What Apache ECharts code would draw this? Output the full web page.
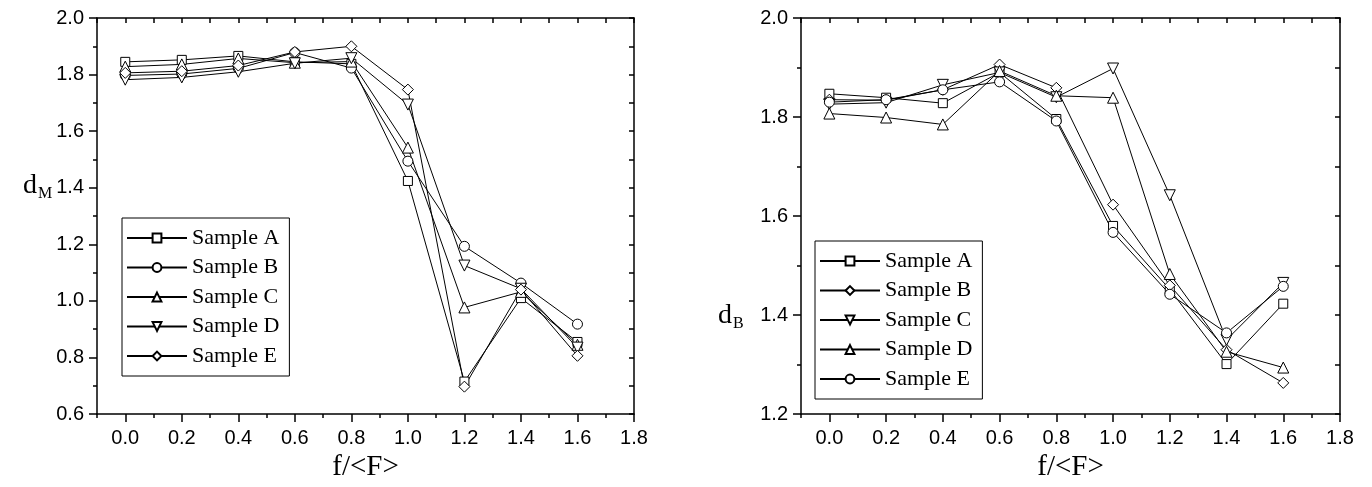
<!DOCTYPE html>
<html><head><meta charset="utf-8">
<script src="https://cdn.jsdelivr.net/npm/echarts@6/dist/echarts.min.js"></script>
<style>
html,body{margin:0;padding:0;background:#fff;}
#wrap{display:flex;width:1372px;height:487px;}
.c{width:686px;height:487px;}
</style>
</head><body>
<div id="wrap"><div id="left" class="c"></div><div id="right" class="c"></div></div>
<script>
// ---------- data ----------
const xValues = [0.0, 0.2, 0.4, 0.6, 0.8, 1.0, 1.2, 1.4, 1.6];
const xMajorTicks = [0.0, 0.2, 0.4, 0.6, 0.8, 1.0, 1.2, 1.4, 1.6, 1.8];
const xMinorTicks = [-0.1, 0.1, 0.3, 0.5, 0.7, 0.9, 1.1, 1.3, 1.5, 1.7];
const seriesNames = ['Sample A', 'Sample B', 'Sample C', 'Sample D', 'Sample E'];

// left panel: d_M
const leftA = [1.845, 1.852, 1.866, 1.845, 1.838, 1.424, 0.715, 1.010, 0.855];
const leftB = [1.797, 1.802, 1.822, 1.878, 1.823, 1.494, 1.193, 1.063, 0.918];
const leftC = [1.828, 1.836, 1.857, 1.842, 1.846, 1.542, 0.977, 1.032, 0.845];
const leftD = [1.782, 1.790, 1.810, 1.840, 1.858, 1.694, 1.125, 1.043, 0.835];
const leftE = [1.806, 1.812, 1.832, 1.880, 1.900, 1.747, 0.697, 1.040, 0.806];
const leftYTicks = [0.6, 0.8, 1.0, 1.2, 1.4, 1.6, 1.8, 2.0];

// right panel: d_B
const rightA = [1.847, 1.839, 1.828, 1.890, 1.796, 1.580, 1.452, 1.301, 1.423];
const rightB = [1.835, 1.834, 1.855, 1.906, 1.859, 1.623, 1.460, 1.330, 1.263];
const rightC = [1.826, 1.829, 1.865, 1.890, 1.840, 1.898, 1.642, 1.350, 1.465];
const rightD = [1.807, 1.799, 1.785, 1.893, 1.843, 1.839, 1.483, 1.326, 1.294];
const rightE = [1.830, 1.835, 1.855, 1.871, 1.792, 1.567, 1.442, 1.364, 1.458];
const rightYTicks = [1.2, 1.4, 1.6, 1.8, 2.0];

// ---------- styling ----------
const SQ = {symbol: 'rect', size: 9, rotate: 0};
const CI = {symbol: 'circle', size: 10, rotate: 0};
const TU = {symbol: 'triangle', size: 11, rotate: 0};
const TD = {symbol: 'triangle', size: 11, rotate: 180};
const DI = {symbol: 'diamond', size: 11, rotate: 0};

const SANS = 'Liberation Sans';
const SERIF = 'Liberation Serif';
const AX = {color: '#000', width: 1.5};

function makeOption(cfg) {
  const series = seriesNames.map((n, i) => ({
    name: n, type: 'line', xAxisIndex: 0, yAxisIndex: 0,
    data: xValues.map((x, j) => [x, cfg.values[i][j]]),
    symbol: cfg.symbols[i].symbol,
    symbolRotate: cfg.symbols[i].rotate,
    symbolSize: cfg.symbols[i].size,
    showAllSymbol: true,
    lineStyle: {color: '#000', width: 1},
    itemStyle: {color: '#fff', borderColor: '#000', borderWidth: 1},
    emphasis: {disabled: true},
    z: 3
  }));
  const ymin = cfg.yTicks[0], ymax = cfg.yTicks[cfg.yTicks.length - 1];
  return {
    animation: false,
    backgroundColor: '#fff',
    grid: {left: cfg.gridLeft, right: cfg.gridRight, top: 18, bottom: 71, containLabel: false},
    legend: {
      orient: 'vertical', left: cfg.legendLeft, top: cfg.legendTop,
      data: seriesNames,
      itemWidth: 60, itemHeight: 11, itemGap: 7.5,
      padding: [9, 10, 9, 4],
      borderColor: '#000', borderWidth: 1,
      selectedMode: false,
      textStyle: {fontFamily: SERIF, fontSize: 22, color: '#000'},
      inactiveColor: '#000'
    },
    xAxis: [
      {
        type: 'value', min: -0.1, max: 1.8, interval: 0.1, position: 'bottom',
        name: 'f/<F>', nameLocation: 'middle', nameGap: 34,
        nameTextStyle: {fontFamily: SERIF, fontSize: 29, color: '#000'},
        axisLine: {show: true, onZero: false, lineStyle: AX},
        axisTick: {show: true, customValues: xMajorTicks, length: 8, lineStyle: AX},
        axisLabel: {show: true, customValues: xMajorTicks, margin: 14,
          formatter: v => Number(v).toFixed(1),
          fontFamily: SANS, fontSize: 20, color: '#000'},
        splitLine: {show: false}
      },
      {
        type: 'value', min: -0.1, max: 1.8, interval: 0.1, position: 'bottom',
        axisLine: {show: false, onZero: false},
        axisTick: {show: true, customValues: xMinorTicks, length: 4, lineStyle: AX},
        axisLabel: {show: false},
        splitLine: {show: false}
      },
      {
        type: 'value', min: -0.1, max: 1.8, interval: 0.1, position: 'top',
        axisLine: {show: true, onZero: false, lineStyle: AX},
        axisTick: {show: true, inside: true, length: 5, lineStyle: AX},
        axisLabel: {show: false},
        splitLine: {show: false}
      }
    ],
    yAxis: [
      {
        type: 'value', min: ymin, max: ymax, interval: 0.2, position: 'left',
        axisLine: {show: true, onZero: false, lineStyle: AX},
        axisTick: {show: true, length: 8, lineStyle: AX},
        minorTick: {show: true, splitNumber: 2, length: 4, lineStyle: AX},
        axisLabel: {show: true, margin: 13, formatter: v => Number(v).toFixed(1),
          fontFamily: SANS, fontSize: 20, color: '#000'},
        splitLine: {show: false}, minorSplitLine: {show: false}
      },
      {
        type: 'value', min: ymin, max: ymax, interval: 0.1, position: 'right',
        axisLine: {show: true, onZero: false, lineStyle: AX},
        axisTick: {show: true, inside: true, length: 5, lineStyle: AX},
        axisLabel: {show: false},
        splitLine: {show: false}
      }
    ],
    graphic: [
      {type: 'text', left: cfg.dX, top: cfg.dY,
        style: {text: 'd', font: '28px "Liberation Serif"', fill: '#000'}},
      {type: 'text', left: cfg.dX + 15, top: cfg.dY + 14,
        style: {text: cfg.sub, font: '16px "Liberation Serif"', fill: '#000'}}
    ],
    series: series
  };
}

const leftChart = echarts.init(document.getElementById('left'), null, {renderer: 'canvas'});
leftChart.setOption(makeOption({
  values: [leftA, leftB, leftC, leftD, leftE],
  symbols: [SQ, CI, TU, TD, DI],
  yTicks: leftYTicks,
  gridLeft: 97, gridRight: 52,
  legendLeft: 122, legendTop: 218,
  dX: 23, dY: 172, sub: 'M'
}));

const rightChart = echarts.init(document.getElementById('right'), null, {renderer: 'canvas'});
rightChart.setOption(makeOption({
  values: [rightA, rightB, rightC, rightD, rightE],
  symbols: [SQ, DI, TD, TU, CI],
  yTicks: rightYTicks,
  gridLeft: 115, gridRight: 32,
  legendLeft: 129, legendTop: 241,
  dX: 32, dY: 302, sub: 'B'
}));
</script>
</body></html>
